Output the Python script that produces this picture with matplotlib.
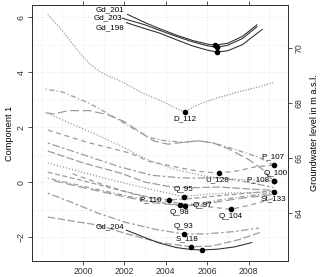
import matplotlib
matplotlib.use("Agg")
import matplotlib.pyplot as plt
import numpy as np

plt.rcParams['font.family'] = ['Liberation Sans', 'DejaVu Sans']

# ---- black (Gd) series ----
gd201_x = [2002.15, 2003.0, 2003.7, 2004.5, 2005.3, 2006.0, 2006.36, 2007.0, 2007.7, 2008.4]
gd201_y = [6.10, 5.80, 5.58, 5.35, 5.15, 5.02, 4.98, 5.05, 5.30, 5.72]
gd203_x = [2001.9, 2003.0, 2003.7, 2004.5, 2005.3, 2006.0, 2006.46, 2007.0, 2007.7, 2008.4]
gd203_y = [5.96, 5.72, 5.52, 5.30, 5.10, 4.96, 4.90, 4.98, 5.22, 5.65]
gd198_x = [2002.1, 2003.0, 2003.7, 2004.5, 2005.3, 2006.0, 2006.46, 2007.0, 2007.7, 2008.65]
gd198_y = [5.80, 5.58, 5.42, 5.18, 4.95, 4.80, 4.73, 4.78, 5.00, 5.55]
gd204_x = [2002.1, 2003.0, 2003.7, 2004.5, 2005.2, 2005.73, 2006.5, 2007.3, 2008.15]
gd204_y = [-1.75, -2.02, -2.22, -2.38, -2.45, -2.47, -2.44, -2.36, -2.20]

# ---- grey series ----
d112_x = [1998.3, 1998.8, 1999.3, 1999.8, 2000.3, 2000.8, 2001.3, 2001.8, 2002.3, 2002.8, 2003.3, 2003.8, 2004.4, 2004.92, 2005.5, 2006.3, 2007.5, 2008.5, 2009.25]
d112_y = [6.10, 5.68, 5.22, 4.74, 4.32, 4.02, 3.84, 3.68, 3.48, 3.27, 3.10, 2.95, 2.72, 2.55, 2.80, 3.02, 3.28, 3.46, 3.64]
p107_x = [1998.2, 1999.0, 2000.3, 2001.3, 2002.3, 2003.2, 2004.0, 2004.9, 2005.6, 2006.3, 2007.3, 2008.5, 2009.2]
p107_y = [3.38, 3.28, 2.87, 2.45, 2.00, 1.62, 1.50, 1.45, 1.50, 1.42, 1.20, 0.90, 0.62]
q100_x = [1998.2, 1998.6, 1999.3, 2000.3, 2001.2, 2002.0, 2002.7, 2003.4, 2004.1, 2004.9, 2005.6, 2006.3, 2007.0, 2008.0, 2008.7, 2009.2]
q100_y = [2.52, 2.48, 2.60, 2.60, 2.45, 2.20, 1.85, 1.50, 1.38, 1.45, 1.50, 1.42, 1.22, 0.82, 0.45, 0.04]
p108_x = [1998.3, 1999.5, 2000.7, 2002.0, 2003.1, 2004.5, 2006.0, 2007.5, 2009.2]
p108_y = [2.50, 2.10, 1.71, 1.25, 0.82, 0.45, 0.20, 0.10, 0.04]
u128_x = [1998.3, 2000.2, 2002.3, 2003.2, 2004.8, 2005.7, 2006.55, 2007.4, 2008.3, 2009.2]
u128_y = [1.89, 1.45, 1.05, 0.75, 0.50, 0.38, 0.33, 0.40, 0.55, 0.62]
la_x = [1998.3, 2000.0, 2001.8, 2003.3, 2004.8, 2006.6, 2008.0, 2009.2]
la_y = [1.42, 1.00, 0.55, 0.25, 0.15, 0.15, 0.00, -0.20]
lb_x = [1998.3, 2000.0, 2001.8, 2003.0, 2004.3, 2005.5, 2006.6, 2008.0, 2009.2]
lb_y = [1.13, 0.70, 0.33, 0.00, -0.18, -0.20, -0.18, -0.25, -0.30]
q95_x = [1998.3, 2000.0, 2001.8, 2003.2, 2004.2, 2004.87, 2005.8, 2007.0, 2008.2, 2009.2]
q95_y = [0.70, 0.35, 0.00, -0.25, -0.42, -0.53, -0.45, -0.40, -0.38, -0.36]
p110_x = [1998.3, 2000.0, 2001.8, 2003.2, 2004.14, 2005.2, 2006.5, 2008.0, 2009.2]
p110_y = [0.36, 0.05, -0.30, -0.55, -0.65, -0.60, -0.50, -0.40, -0.32]
q98_x = [1998.3, 2000.0, 2001.8, 2003.3, 2004.67, 2005.8, 2007.0, 2008.2, 2009.2]
q98_y = [0.14, -0.15, -0.45, -0.70, -0.84, -0.75, -0.60, -0.48, -0.40]
q97_x = [1998.6, 2000.0, 2001.8, 2003.4, 2004.92, 2006.0, 2007.5, 2009.2]
q97_y = [0.05, -0.20, -0.50, -0.75, -0.87, -0.78, -0.60, -0.45]
q104_x = [1999.5, 2001.0, 2002.5, 2004.0, 2005.5, 2006.3, 2007.13, 2008.0, 2009.2]
q104_y = [0.30, -0.10, -0.45, -0.70, -0.85, -0.92, -0.99, -0.85, -0.60]
q93_x = [1998.3, 1999.5, 2000.8, 2002.0, 2003.5, 2004.87, 2006.0, 2007.3, 2008.5]
q93_y = [-0.40, -0.75, -1.15, -1.45, -1.72, -1.89, -1.88, -1.80, -1.67]
s118_x = [1998.3, 1999.5, 2000.7, 2002.2, 2003.7, 2005.2, 2006.2, 2007.5, 2008.6]
s118_y = [-1.27, -1.42, -1.56, -1.90, -2.20, -2.35, -2.33, -2.10, -1.82]

# labelled points
lab_names = ["D_112", "U_128", "P_107", "Q_100", "P_108", "St_133", "Q_95", "P_110",
             "Q_98", "Q_97", "Q_104", "Q_93", "S_118"]
lab_px = [2004.92, 2006.55, 2009.2, 2009.2, 2009.2, 2009.2, 2004.87, 2004.14,
          2004.67, 2004.92, 2007.13, 2004.87, 2005.2]
lab_py = [2.55, 0.33, 0.62, 0.04, 0.04, -0.36, -0.53, -0.65,
          -0.84, -0.87, -0.99, -1.89, -2.35]
lab_tx = [2004.92, 2006.5, 2009.16, 2009.3, 2008.43, 2009.2, 2004.87, 2003.25,
          2004.67, 2005.75, 2007.13, 2004.87, 2005.0]
lab_ty = [2.30, 0.08, 0.92, 0.33, 0.07, -0.60, -0.28, -0.65,
          -1.10, -0.84, -1.24, -1.63, -2.07]
gd_names = ["Gd_201", "Gd_203", "Gd_198", "Gd_204"]
gd_tx = [2001.3, 2001.2, 2001.3, 2001.3]
gd_ty = [6.25, 5.98, 5.62, -1.64]
gd_min_x = [2006.36, 2006.46, 2006.46, 2005.73]
gd_min_y = [4.98, 4.90, 4.73, -2.47]

grey = '#9c9c9c'
fig = plt.figure(figsize=(3.2, 2.77), dpi=100)
ax = fig.add_axes([0.1, 0.0578, 0.8, 0.924])
ax.set_xlim(1997.54, 2009.9)
ax.set_ylim(-2.87, 6.44)

for v in range(1998, 2010):
    ax.axvline(v, color='#e2e2e2', lw=0.6, ls=(0, (1, 2)), zorder=0)
for v in range(-2, 7):
    ax.axhline(v, color='#e2e2e2', lw=0.6, ls=(0, (1, 2)), zorder=0)

styles = [
    (d112_x, d112_y, (0, (1, 1.2))),
    (p107_x, p107_y, (0, (1, 2, 4, 2))),
    (q100_x, q100_y, (0, (7, 3))),
    (p108_x, p108_y, (0, (1, 1.5))),
    (u128_x, u128_y, (0, (4, 3))),
    (la_x, la_y, (0, (2, 2, 6, 2))),
    (lb_x, lb_y, (0, (6, 2))),
    (q95_x, q95_y, (0, (1, 1.5))),
    (p110_x, p110_y, (0, (4, 2))),
    (q98_x, q98_y, (0, (1, 2, 4, 2))),
    (q97_x, q97_y, (0, (7, 3))),
    (q104_x, q104_y, (0, (4, 3))),
    (q93_x, q93_y, (0, (2, 2, 6, 2))),
    (s118_x, s118_y, (0, (6, 2))),
]
for xs, ys, ls in styles:
    ax.plot(xs, ys, color=grey, lw=0.9, ls=ls, zorder=2)

for xs, ys in [(gd201_x, gd201_y), (gd203_x, gd203_y), (gd198_x, gd198_y), (gd204_x, gd204_y)]:
    ax.plot(xs, ys, color='#2a2a2a', lw=0.75, zorder=3)

ax.plot(lab_px, lab_py, 'o', color='black', ms=3, zorder=4)
ax.plot(gd_min_x, gd_min_y, 'o', color='black', ms=3, zorder=4)

fs = 5.8
tfs = 6.3
for n, tx, ty in zip(lab_names, lab_tx, lab_ty):
    ax.text(tx, ty, n, fontsize=fs, ha='center', va='center', zorder=5)
for n, tx, ty in zip(gd_names, gd_tx, gd_ty):
    ax.text(tx, ty, n, fontsize=fs, ha='center', va='center', zorder=5)

ax.set_xticks([2000, 2002, 2004, 2006, 2008])
ax.set_yticks([-2, 0, 2, 4, 6])
ax.tick_params(axis='both', labelsize=tfs, length=3, width=0.6, pad=1.5, colors='#333333')
ax.tick_params(axis='x', top=True)
for lbl in ax.get_yticklabels():
    lbl.set_rotation(90)
    lbl.set_va('center')
ax.set_ylabel('Component 1', fontsize=tfs + 0.3, labelpad=2)

offset = 65.12
ax2 = ax.twinx()
ax2.set_ylim(-2.87 + offset, 6.44 + offset)
ax2.set_yticks([64, 66, 68, 70])
ax2.tick_params(axis='y', labelsize=tfs, length=3, width=0.6, pad=1.5, colors='#333333')
for lbl in ax2.get_yticklabels():
    lbl.set_rotation(90)
    lbl.set_va('center')
ax2.set_ylabel('Groundwater level in m a.s.l.', fontsize=tfs + 0.3, labelpad=5, rotation=90)

for a in (ax, ax2):
    for s in a.spines.values():
        s.set_linewidth(0.7)
        s.set_color('#333333')

fig.savefig('out.png', dpi=100)
